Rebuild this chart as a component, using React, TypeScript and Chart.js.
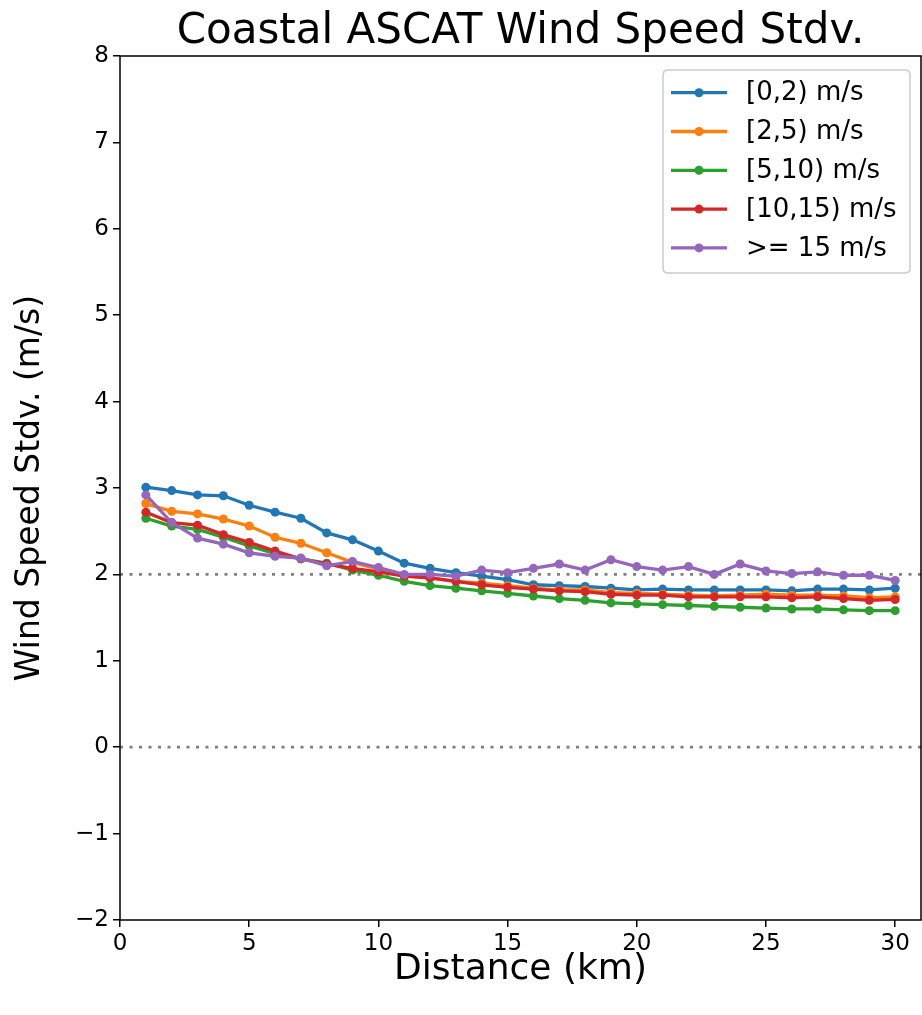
import React, { useEffect, useRef } from 'react';
import { Chart, registerables } from 'chart.js';

Chart.register(...registerables);

const FONT = "'DejaVu Sans', sans-serif";

const chartTitle = 'Coastal ASCAT Wind Speed Stdv.';
const xAxisLabel = 'Distance (km)';
const yAxisLabel = 'Wind Speed Stdv. (m/s)';

const distanceKm = [1, 2, 3, 4, 5, 6, 7, 8, 9, 10, 11, 12, 13, 14, 15, 16, 17, 18, 19, 20, 21, 22, 23, 24, 25, 26, 27, 28, 29, 30];

const seriesLabels = ['[0,2) m/s', '[2,5) m/s', '[5,10) m/s', '[10,15) m/s', '>= 15 m/s'];
const seriesColors = ['#1f77b4', '#ff7f0e', '#2ca02c', '#d62728', '#9467bd'];

const stdv0to2 = [3.01, 2.97, 2.92, 2.91, 2.80, 2.72, 2.65, 2.48, 2.40, 2.27, 2.13, 2.07, 2.02, 1.98, 1.94, 1.88, 1.87, 1.86, 1.84, 1.82, 1.83, 1.82, 1.82, 1.82, 1.82, 1.81, 1.83, 1.83, 1.82, 1.84];
const stdv2to5 = [2.82, 2.73, 2.70, 2.64, 2.56, 2.43, 2.36, 2.25, 2.14, 2.06, 1.98, 1.96, 1.92, 1.90, 1.87, 1.84, 1.82, 1.82, 1.79, 1.78, 1.77, 1.76, 1.75, 1.76, 1.77, 1.76, 1.76, 1.75, 1.73, 1.74];
const stdv5to10 = [2.65, 2.56, 2.52, 2.43, 2.33, 2.24, 2.18, 2.13, 2.05, 1.99, 1.92, 1.87, 1.84, 1.81, 1.78, 1.75, 1.72, 1.70, 1.67, 1.66, 1.65, 1.64, 1.63, 1.62, 1.61, 1.60, 1.60, 1.59, 1.58, 1.58];
const stdv10to15 = [2.72, 2.60, 2.57, 2.46, 2.37, 2.27, 2.18, 2.12, 2.07, 2.03, 1.98, 1.96, 1.92, 1.88, 1.85, 1.83, 1.81, 1.80, 1.77, 1.76, 1.76, 1.74, 1.74, 1.74, 1.74, 1.73, 1.74, 1.72, 1.70, 1.71];
const stdvAbove15 = [2.92, 2.60, 2.42, 2.35, 2.25, 2.21, 2.19, 2.10, 2.15, 2.08, 2.00, 2.00, 1.98, 2.05, 2.02, 2.07, 2.12, 2.05, 2.17, 2.09, 2.05, 2.09, 2.00, 2.12, 2.04, 2.01, 2.03, 1.99, 1.99, 1.93];

const allSeries = [stdv0to2, stdv2to5, stdv5to10, stdv10to15, stdvAbove15];

const xTickValues = [0, 5, 10, 15, 20, 25, 30];
const yTickValues = [-2, -1, 0, 1, 2, 3, 4, 5, 6, 7, 8];
const referenceLines = [0, 2];

const X_MIN = 0;
const X_MAX = 31;
const Y_MIN = -2;
const Y_MAX = 8;

const refLinePlugin = {
  id: 'refLines',
  beforeDatasetsDraw(chart: any) {
    const { ctx, chartArea } = chart;
    const ys = chart.scales.y;
    ctx.save();
    ctx.strokeStyle = '#808080';
    ctx.lineWidth = 2.8;
    ctx.setLineDash([3, 6.5]);
    referenceLines.forEach((v) => {
      const py = ys.getPixelForValue(v);
      ctx.beginPath();
      ctx.moveTo(chartArea.left, py);
      ctx.lineTo(chartArea.right, py);
      ctx.stroke();
    });
    ctx.restore();
  },
};

const framePlugin = {
  id: 'frame',
  afterDatasetsDraw(chart: any) {
    const { ctx, chartArea } = chart;
    ctx.save();
    ctx.strokeStyle = '#000';
    ctx.lineWidth = 1.5;
    ctx.strokeRect(chartArea.left, chartArea.top, chartArea.right - chartArea.left, chartArea.bottom - chartArea.top);
    ctx.restore();
  },
};

const titlePlugin = {
  id: 'customTitle',
  afterDraw(chart: any) {
    const { ctx, chartArea } = chart;
    ctx.save();
    ctx.fillStyle = '#000';
    ctx.font = `42px ${FONT}`;
    ctx.textAlign = 'center';
    ctx.textBaseline = 'alphabetic';
    ctx.fillText(chartTitle, (chartArea.left + chartArea.right) / 2, 43);
    ctx.restore();
  },
};

const legendPlugin = {
  id: 'customLegend',
  afterDraw(chart: any) {
    const { ctx } = chart;
    const boxL = 663, boxT = 70, boxR = 910, boxB = 273, r = 5;
    ctx.save();
    ctx.beginPath();
    ctx.moveTo(boxL + r, boxT);
    ctx.lineTo(boxR - r, boxT);
    ctx.quadraticCurveTo(boxR, boxT, boxR, boxT + r);
    ctx.lineTo(boxR, boxB - r);
    ctx.quadraticCurveTo(boxR, boxB, boxR - r, boxB);
    ctx.lineTo(boxL + r, boxB);
    ctx.quadraticCurveTo(boxL, boxB, boxL, boxB - r);
    ctx.lineTo(boxL, boxT + r);
    ctx.quadraticCurveTo(boxL, boxT, boxL + r, boxT);
    ctx.closePath();
    ctx.fillStyle = 'rgba(255,255,255,0.8)';
    ctx.fill();
    ctx.strokeStyle = '#cccccc';
    ctx.lineWidth = 1.5;
    ctx.stroke();

    chart.data.datasets.forEach((ds: any, i: number) => {
      const cy = 92.7 + i * 38.8;
      ctx.strokeStyle = ds.borderColor;
      ctx.lineWidth = 3.3;
      ctx.beginPath();
      ctx.moveTo(671, cy);
      ctx.lineTo(727, cy);
      ctx.stroke();
      ctx.fillStyle = ds.borderColor;
      ctx.beginPath();
      ctx.arc(699, cy, 4.5, 0, Math.PI * 2);
      ctx.fill();
      ctx.fillStyle = '#000';
      ctx.font = `26px ${FONT}`;
      ctx.textAlign = 'left';
      ctx.textBaseline = 'middle';
      ctx.fillText(ds.label, 746, cy + 1);
    });
    ctx.restore();
  },
};

const fmtTick = (v: number) => (v < 0 ? '\u2212' + Math.abs(v) : String(v));

export default function App() {
  const ref = useRef<HTMLCanvasElement>(null);

  useEffect(() => {
    const canvas = ref.current;
    if (!canvas) return;
    const chart = new Chart(canvas, {
      type: 'line',
      data: {
        datasets: allSeries.map((vals, i) => ({
          label: seriesLabels[i],
          data: distanceKm.map((d, j) => ({ x: d, y: vals[j] })),
          borderColor: seriesColors[i],
          backgroundColor: seriesColors[i],
          borderWidth: 3.3,
          pointRadius: 4.5,
          pointHoverRadius: 4.5,
          pointBorderWidth: 0,
          pointBackgroundColor: seriesColors[i],
          tension: 0,
          fill: false,
          order: allSeries.length - i,
        })),
      },
      options: {
        responsive: false,
        animation: false,
        devicePixelRatio: 1,
        events: [],
        layout: { autoPadding: false, padding: { top: 56, right: 1, left: 0, bottom: 0 } },
        plugins: {
          legend: { display: false },
          title: { display: false },
          tooltip: { enabled: false },
        },
        scales: {
          x: {
            type: 'linear',
            min: X_MIN,
            max: X_MAX,
            afterFit: (s: any) => {
              s.height = 95;
              s.paddingLeft = 0;
              s.paddingRight = 0;
            },
            afterBuildTicks: (s: any) => {
              s.ticks = xTickValues.map((v) => ({ value: v }));
            },
            ticks: {
              font: { family: FONT, size: 23 },
              color: '#000',
              padding: 3,
              maxRotation: 0,
              autoSkip: false,
              callback: (v: any) => fmtTick(Number(v)),
            },
            grid: { drawOnChartArea: false, drawTicks: true, tickLength: 7, color: '#000', lineWidth: 1.5 },
            border: { display: false },
            title: {
              display: true,
              text: xAxisLabel,
              color: '#000',
              font: { family: FONT, size: 36 },
              padding: { top: 0, bottom: 24 },
            },
          },
          y: {
            type: 'linear',
            min: Y_MIN,
            max: Y_MAX,
            afterFit: (s: any) => {
              s.width = 120;
              s.paddingTop = 0;
              s.paddingBottom = 0;
            },
            afterBuildTicks: (s: any) => {
              s.ticks = yTickValues.map((v) => ({ value: v }));
            },
            ticks: {
              font: { family: FONT, size: 23 },
              color: '#000',
              padding: 4,
              autoSkip: false,
              callback: (v: any) => fmtTick(Number(v)),
            },
            grid: { drawOnChartArea: false, drawTicks: true, tickLength: 7, color: '#000', lineWidth: 1.5 },
            border: { display: false },
            title: {
              display: true,
              text: yAxisLabel,
              color: '#000',
              font: { family: FONT, size: 33 },
              padding: { top: 11, bottom: 0 },
            },
          },
        },
      },
      plugins: [refLinePlugin, framePlugin, titlePlugin, legendPlugin],
    } as any);
    return () => chart.destroy();
  }, []);

  return (
    <div style={{ position: 'absolute', left: 0, top: 0, width: 922, height: 1015, background: '#fff' }}>
      <canvas ref={ref} width={922} height={1015} style={{ display: 'block', width: 922, height: 1015 }} />
    </div>
  );
}
